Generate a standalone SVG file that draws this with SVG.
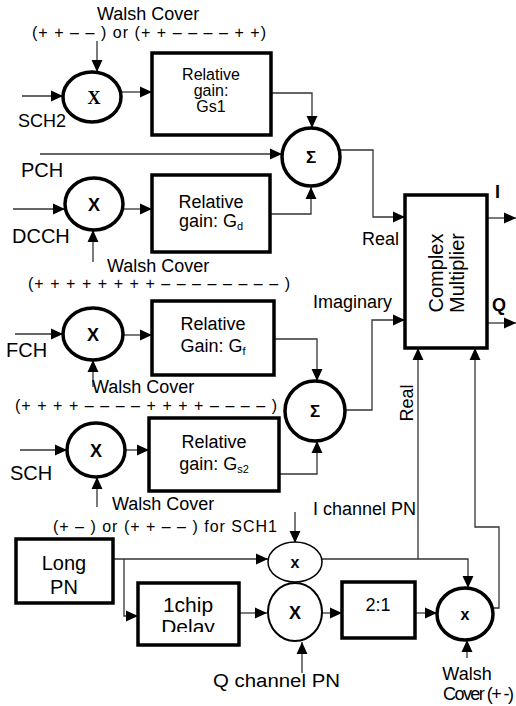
<svg xmlns="http://www.w3.org/2000/svg" width="516" height="706" viewBox="0 0 516 706">
<style>
text{font-family:"Liberation Sans",Arial,sans-serif;font-size:18px;fill:#000}
.lbl{font-size:20px}
.par{font-size:16px}
.mid{text-anchor:middle}
.b{font-weight:bold}
.box{fill:#fff;stroke:#000;stroke-width:3.5}
.circ{fill:#fff;stroke:#000;stroke-width:3.5}
.thin{fill:#fff;stroke:#000;stroke-width:1.5}
.med{fill:#fff;stroke:#000;stroke-width:2}
.c{fill:none;stroke:#333;stroke-width:1.3}
.ar{marker-end:url(#ah)}
.sub{font-size:11px}
</style>
<defs>
<marker id="ah" markerUnits="userSpaceOnUse" markerWidth="12" markerHeight="12" refX="11" refY="5" orient="auto" viewBox="0 0 11 10">
<path d="M0,0 L11,5 L0,10 z" fill="#000"/>
</marker>
<clipPath id="dclip"><rect x="138" y="583" width="101" height="49"/></clipPath>
</defs>
<g id="connectors">
<path class="c ar" d="M97,41 V72"/>
<path class="c ar" d="M22,96 H63"/>
<path class="c ar" d="M122,92 H152"/>
<path class="c ar" d="M271,93 H312 V128"/>
<path class="c ar" d="M40,154 H282"/>
<path class="c ar" d="M13,209 H65"/>
<path class="c ar" d="M93,262 V230"/>
<path class="c ar" d="M123,209 H152"/>
<path class="c ar" d="M270,214 H311 V187"/>
<path class="c ar" d="M340,150 H373 V217 H405"/>
<path class="c ar" d="M15,334 H63"/>
<path class="c ar" d="M93,387 V360"/>
<path class="c ar" d="M124,335 H152"/>
<path class="c ar" d="M274,339 H317 V381"/>
<path class="c ar" d="M20,450 H67"/>
<path class="c ar" d="M97,507 V477"/>
<path class="c ar" d="M125,450 H149"/>
<path class="c ar" d="M279,474 H317 V441"/>
<path class="c ar" d="M345,410 H372 V320 H405"/>
<path class="c ar" d="M487,218 H516"/>
<path class="c ar" d="M487,323 H516"/>
<path class="c ar" d="M113,559 H268"/>
<path class="c ar" d="M124,559 V616 H138"/>
<path class="c ar" d="M295,512 V543"/>
<path class="c ar" d="M322,559 H468 V588"/>
<path class="c ar" d="M418,559 V348"/>
<path class="c ar" d="M493,608 H499 V527 H475 V348"/>
<path class="c ar" d="M239,613 H267"/>
<path class="c ar" d="M322,613 H342"/>
<path class="c ar" d="M415,613 H437"/>
<path class="c ar" d="M467,658 V640"/>
<path class="c ar" d="M302,673 V642"/>
</g>
<g id="mult-sch2">
<ellipse class="circ" cx="92" cy="97" rx="29" ry="25"/>
<text x="94" y="104" class="mid b" style="font-family:'Liberation Serif','Times New Roman',serif">X</text>
</g>
<g id="gain-gs1">
<rect class="box" x="152" y="53" width="119" height="82"/>
<text x="211" y="80" class="mid" style="font-size:16px">Relative</text>
<text x="211" y="96" class="mid" style="font-size:16px">gain:</text>
<text x="211" y="112" class="mid" style="font-size:16px">Gs1</text>
</g>
<g id="sum1">
<circle class="circ" cx="311" cy="157" r="29"/>
<text x="311" y="163" class="mid b" style="font-size:17px">Σ</text>
</g>
<g id="mult-dcch">
<ellipse class="circ" cx="94" cy="204" rx="29" ry="26"/>
<text x="94" y="211" class="mid b">X</text>
</g>
<g id="gain-gd">
<rect class="box" x="152" y="175" width="118" height="77"/>
<text x="211" y="208" class="mid">Relative</text>
<text x="211" y="227" class="mid">gain: G<tspan class="sub" dy="3">d</tspan></text>
</g>
<g id="mult-fch">
<ellipse class="circ" cx="93" cy="334" rx="30" ry="26"/>
<text x="93" y="341" class="mid b">X</text>
</g>
<g id="gain-gf">
<rect class="box" x="152" y="301" width="122" height="74"/>
<text x="213" y="330" class="mid">Relative</text>
<text x="213" y="352" class="mid">Gain: G<tspan class="sub" dy="3">f</tspan></text>
</g>
<g id="mult-sch">
<ellipse class="circ" cx="96" cy="450" rx="29" ry="27"/>
<text x="96" y="457" class="mid b">X</text>
</g>
<g id="gain-gs2">
<rect class="box" x="149" y="418" width="130" height="73"/>
<text x="214" y="448" class="mid">Relative</text>
<text x="214" y="470" class="mid">gain: G<tspan class="sub" dy="3">s2</tspan></text>
</g>
<g id="sum2">
<circle class="circ" cx="315" cy="411" r="30"/>
<text x="315" y="417" class="mid b" style="font-size:17px">Σ</text>
</g>
<g id="complex-multiplier">
<rect class="box" x="405" y="195" width="82" height="153"/>
<text transform="translate(443,273) rotate(-90)" x="0" y="0" class="mid" style="font-size:20px">Complex</text>
<text transform="translate(464,273) rotate(-90)" x="0" y="0" class="mid" style="font-size:20px">Multiplier</text>
</g>
<g id="long-pn">
<rect class="box" x="16" y="539" width="97" height="64"/>
<text x="64" y="570" class="mid" style="font-size:20px">Long</text>
<text x="64" y="594" class="mid" style="font-size:20px">PN</text>
</g>
<g id="mult-i">
<ellipse class="thin" cx="295" cy="562" rx="27" ry="20"/>
<text x="295" y="568" class="mid b" style="font-size:16px">x</text>
</g>
<g id="delay">
<rect class="box" x="138" y="583" width="101" height="62"/>
<g clip-path="url(#dclip)">
<text x="188" y="612" class="mid" style="font-size:21px">1chip</text>
<text x="188" y="634" class="mid" style="font-size:21px">Delay</text>
</g>
</g>
<g id="mult-q">
<ellipse class="med" cx="295" cy="612" rx="27" ry="29"/>
<text x="295" y="619" class="mid b">X</text>
</g>
<g id="decim">
<rect class="box" x="342" y="582" width="73" height="56"/>
<text x="378" y="611" class="mid">2:1</text>
</g>
<g id="mult-walsh">
<ellipse class="circ" cx="465" cy="614" rx="28" ry="26"/>
<text x="465" y="620" class="mid b" style="font-size:16px">x</text>
</g>
<g id="labels">
<text x="97" y="20">Walsh Cover</text>
<text x="32" y="38" class="par" textLength="234" lengthAdjust="spacing">(+ + – – ) or (+ + – – – – + +)</text>
<text x="18" y="127">SCH2</text>
<text x="21" y="177" class="lbl">PCH</text>
<text x="12" y="243" class="lbl">DCCH</text>
<text x="107" y="272">Walsh Cover</text>
<text x="28" y="289" class="par" textLength="262" lengthAdjust="spacing">(+ + + + + + + + – – – – – – – – )</text>
<text x="6" y="357" class="lbl">FCH</text>
<text x="92" y="393">Walsh Cover</text>
<text x="15" y="411" class="par" textLength="262" lengthAdjust="spacing">(+ + + + – – – – + + + + – – – – )</text>
<text x="10" y="480" class="lbl">SCH</text>
<text x="112" y="510">Walsh Cover</text>
<text x="53" y="532" class="par" textLength="224" lengthAdjust="spacing">(+ – ) or (+ + – – ) for SCH1</text>
<text x="362" y="245">Real</text>
<text x="313" y="308">Imaginary</text>
<text x="495" y="198" class="b">I</text>
<text x="492" y="311" class="b">Q</text>
<text transform="translate(413,403) rotate(-90)" x="0" y="0" class="mid">Real</text>
<text x="313" y="515">I channel PN</text>
<text x="213" y="687" textLength="127" lengthAdjust="spacingAndGlyphs">Q channel PN</text>
<text x="467" y="680" class="mid">Walsh</text>
<text x="443" y="700" textLength="71" lengthAdjust="spacing">Cover (+ -)</text>
</g>
</svg>
